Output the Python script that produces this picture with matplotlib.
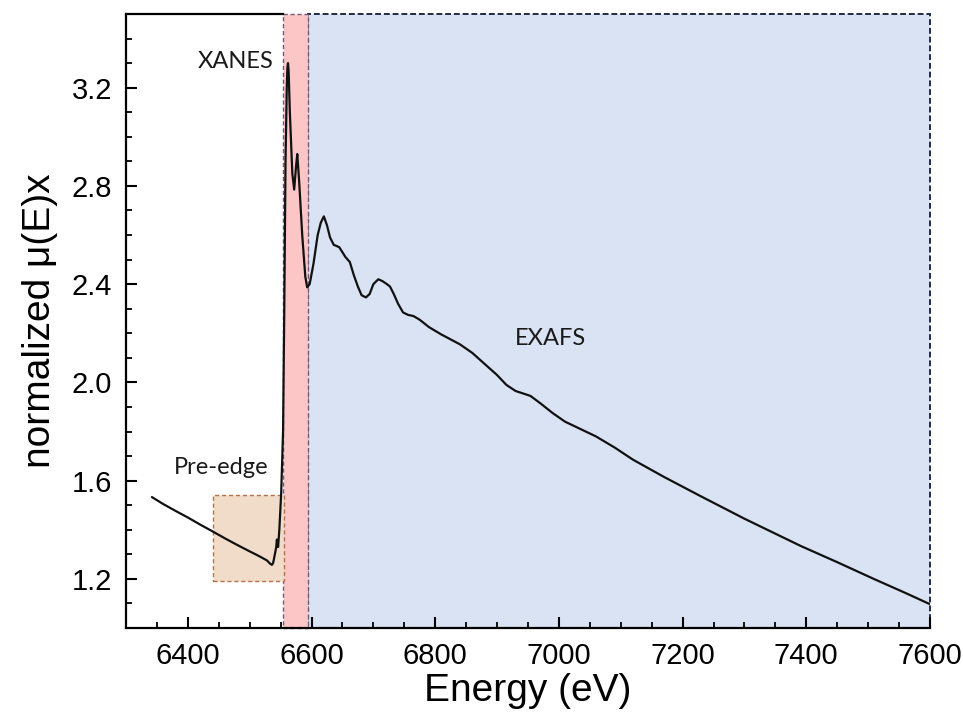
import matplotlib
matplotlib.use("Agg")
import matplotlib.pyplot as plt
from matplotlib.patches import Rectangle
from matplotlib.ticker import MultipleLocator

# Normalized absorption spectrum (energy in eV, normalized mu(E)x)
energy = [6342, 6360, 6380, 6400, 6420, 6441, 6460, 6480, 6500, 6515, 6528,
          6533, 6536, 6538, 6540, 6543, 6544, 6546, 6548, 6551, 6554, 6556,
          6558, 6560, 6561, 6562, 6563, 6565, 6569, 6572, 6575, 6577, 6580,
          6585, 6590, 6593, 6597, 6603, 6610, 6615, 6620, 6625, 6630, 6636,
          6641, 6645, 6650, 6655, 6662, 6668, 6675, 6681, 6688, 6694, 6700,
          6708, 6715, 6722, 6727, 6733, 6740, 6748, 6756, 6765, 6775, 6790,
          6810, 6840, 6860, 6880, 6900, 6915, 6930, 6954, 6970, 6990, 7010,
          7035, 7060, 7090, 7120, 7170, 7229, 7300, 7391, 7450, 7509, 7560,
          7599]
mu = [1.533, 1.505, 1.477, 1.450, 1.421, 1.392, 1.365, 1.338, 1.312, 1.293, 1.275,
      1.262, 1.257, 1.265, 1.29, 1.33, 1.36, 1.33, 1.40, 1.55, 1.80, 2.30,
      2.90, 3.20, 3.28, 3.30, 3.27, 3.10, 2.85, 2.785, 2.88, 2.93, 2.82,
      2.60, 2.43, 2.387, 2.40, 2.48, 2.60, 2.65, 2.676, 2.64, 2.59, 2.56,
      2.555, 2.55, 2.53, 2.51, 2.49, 2.44, 2.39, 2.355, 2.346, 2.36, 2.40,
      2.42, 2.412, 2.40, 2.39, 2.36, 2.32, 2.285, 2.275, 2.27, 2.255, 2.225,
      2.195, 2.155, 2.12, 2.075, 2.03, 1.99, 1.965, 1.945, 1.915, 1.875, 1.84,
      1.81, 1.78, 1.735, 1.685, 1.615, 1.537, 1.445, 1.334, 1.268, 1.20, 1.143,
      1.098]

# Spectral regions
pre_edge = (6440, 6555, 1.19, 1.54)     # x0, x1, y0, y1
xanes = (6554, 6594)
exafs = (6594, 7600)

x_ticks = [6400, 6600, 6800, 7000, 7200, 7400, 7600]
y_ticks = [1.2, 1.6, 2.0, 2.4, 2.8, 3.2]
xlim = (6300, 7600)
ylim = (1.0, 3.5)

plt.rcParams['font.family'] = ['Liberation Sans', 'DejaVu Sans']

fig = plt.figure(figsize=(9.63, 7.15), dpi=100)
ax = fig.add_axes([0.1308, 0.1217, 0.8349, 0.8587])
ax.set_xlim(*xlim)
ax.set_ylim(*ylim)

# Shaded regions
ax.add_patch(Rectangle((exafs[0], ylim[0]), exafs[1] - exafs[0], ylim[1] - ylim[0],
                       facecolor='#dae3f3', edgecolor='#1f2a44', linestyle=(0, (3, 1.5)),
                       linewidth=1.4, zorder=1, clip_on=False))
ax.add_patch(Rectangle((xanes[0], ylim[0]), xanes[1] - xanes[0], ylim[1] - ylim[0],
                       facecolor='#fcc6c6', edgecolor='#6f5a7a', linestyle=(0, (3, 2)),
                       linewidth=1.0, zorder=1.5, clip_on=False))
ax.add_patch(Rectangle((pre_edge[0], pre_edge[2]), pre_edge[1] - pre_edge[0],
                       pre_edge[3] - pre_edge[2],
                       facecolor='#f1dcca', edgecolor='#b8714a', linestyle=(0, (3, 2)),
                       linewidth=1.0, zorder=1.5))

ax.plot(energy, mu, color='#111111', linewidth=1.6, zorder=3,
        solid_joinstyle='round', solid_capstyle='round')

# Region labels
lab_font = ['Lato', 'DejaVu Sans']
ax.text(6478, 3.305, 'XANES', ha='center', va='center', fontsize=17, family=lab_font, color='#1a1a1a')
ax.text(6454, 1.655, 'Pre-edge', ha='center', va='center', fontsize=17, family=lab_font, color='#1a1a1a')
ax.text(6986, 2.18, 'EXAFS', ha='center', va='center', fontsize=17, family=lab_font, color='#1a1a1a')

# Axes frame and ticks
ax.spines['right'].set_visible(False)
ax.spines['top'].set_bounds(xlim[0], xanes[0])
for s in ('left', 'bottom', 'top'):
    ax.spines[s].set_linewidth(1.6)
    ax.spines[s].set_zorder(4)

ax.set_xticks(x_ticks)
ax.set_yticks(y_ticks)
ax.set_yticklabels([f'{v:.1f}' for v in y_ticks])
ax.xaxis.set_minor_locator(MultipleLocator(50))
ax.yaxis.set_minor_locator(MultipleLocator(0.1))
ax.tick_params(which='major', direction='in', length=8, width=1.5, labelsize=21, pad=10,
               top=False, right=False)
ax.tick_params(which='minor', direction='in', length=4, width=1.3, top=False, right=False)

ax.set_xlabel('Energy (eV)', fontsize=28, labelpad=2)
ax.set_ylabel('normalized μ(E)x', fontsize=28, labelpad=10)

fig.savefig('out.png', dpi=100)
